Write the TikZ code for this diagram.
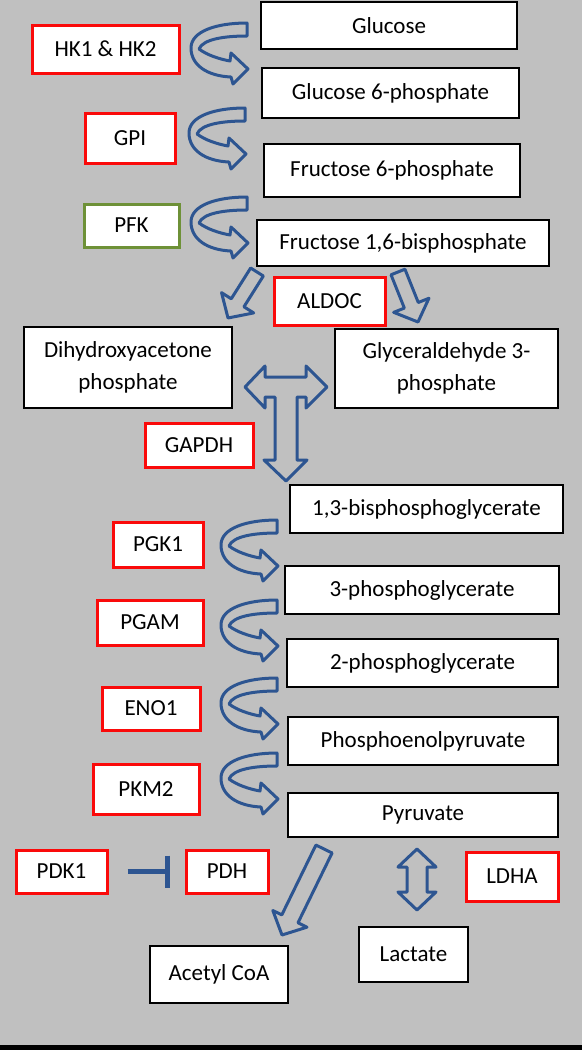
\documentclass[tikz,border=0pt]{standalone}
\usepackage{fontspec}
\setmainfont{Carlito}
\usetikzlibrary{calc,arrows.meta}

\definecolor{panel}{RGB}{192,192,192}
\definecolor{flow}{RGB}{45,85,145}
\definecolor{enzred}{RGB}{250,10,10}
\definecolor{enzgreen}{RGB}{110,145,55}

% curved step arrow, #1 = top of its tail
\newcommand{\turnarrow}[1]{%
  \begin{scope}[shift={(#1)}]
    \draw[flowline] (0,0) -- (0,13) .. controls (-22,13) and (-44,16) .. (-48,26)
      .. controls (-40,32) and (-28,36) .. (-17,38) -- (-16,30) -- (1,46) -- (-14,61) -- (-16,54)
      .. controls (-40,53) and (-56,42) .. (-56,25) .. controls (-56,8) and (-30,0) .. (0,0) -- cycle;
  \end{scope}}

% straight block arrow from #1 to #2, half shaft #3
\newcommand{\fatarrow}[3]{%
  \coordinate (hb) at ($(#2)!18pt!(#1)$);
  \draw[flowline] ($(#1)!#3!90:(#2)$) -- ($(hb)!#3!-90:(#1)$) -- ($(hb)!19pt!-90:(#1)$) -- (#2)
    -- ($(hb)!19pt!90:(#1)$) -- ($(hb)!#3!90:(#1)$) -- ($(#1)!#3!-90:(#2)$) -- cycle;}

% block arrow with two heads
\newcommand{\twinarrow}[3]{%
  \coordinate (ha) at ($(#1)!18pt!(#2)$);
  \coordinate (hb) at ($(#2)!18pt!(#1)$);
  \draw[flowline] (#1) -- ($(ha)!19pt!90:(#2)$) -- ($(ha)!#3!90:(#2)$) -- ($(hb)!#3!-90:(#1)$)
    -- ($(hb)!19pt!-90:(#1)$) -- (#2) -- ($(hb)!19pt!90:(#1)$) -- ($(hb)!#3!90:(#1)$)
    -- ($(ha)!#3!-90:(#2)$) -- ($(ha)!19pt!-90:(#2)$) -- cycle;}

\begin{document}
\begin{tikzpicture}[x=1pt,y=-1pt,
   met/.style={draw=black,line width=1.5pt,fill=white,inner sep=0pt,align=center,
     font=\fontsize{23}{32}\selectfont},
   enz/.style={met,draw=enzred,line width=3pt},
   flowline/.style={draw=flow,line width=3pt,line join=round},
   inhibit/.style={draw=flow,line width=5pt,-{Bar[width=32pt]},shorten <=19pt,shorten >=15pt}]

   \useasboundingbox (0,0) rectangle (582,1050);
   \fill[panel] (0,0) rectangle (582,1050);
   \fill[black] (0,1045) rectangle (582,1050);

   % metabolites
     \path (389,25.5) node[met,minimum width=256,minimum height=47] (glc) {Glucose};
     \path (390.5,93) node[met,minimum width=257,minimum height=50] (g6p) {Glucose 6-phosphate};
     \path (392,170.5) node[met,minimum width=256,minimum height=53] (f6p) {Fructose 6-phosphate};
     \path (403,243) node[met,minimum width=292,minimum height=46] (f16bp) {Fructose 1,6-bisphosphate};
     \path (128,367.5) node[met,minimum width=208,minimum height=81] (dhap) {Dihydroxyacetone\\phosphate};
     \path (446.5,368.5) node[met,minimum width=223,minimum height=79] (ga3p) {Glyceraldehyde 3-\\phosphate};
     \path (426.5,509) node[met,minimum width=273,minimum height=48] (bpg) {1,3-bisphosphoglycerate};
     \path (422,590) node[met,minimum width=274,minimum height=48] (pg3) {3-phosphoglycerate};
     \path (422.5,663) node[met,minimum width=271,minimum height=48] (pg2) {2-phosphoglycerate};
     \path (423,741) node[met,minimum width=270,minimum height=48] (pep) {Phosphoenolpyruvate};
     \path (423,815) node[met,minimum width=270,minimum height=44] (pyr) {Pyruvate};
     \path (219,974.5) node[met,minimum width=138,minimum height=57] (acoa) {Acetyl CoA};
     \path (413.5,954.5) node[met,minimum width=109,minimum height=55] (lac) {Lactate};

   % enzymes
     \path (105.5,49) node[enz,minimum width=147,minimum height=48] (hk) {HK1 \& HK2};
     \path (130,138) node[enz,minimum width=90,minimum height=50] (gpi) {GPI};
     \path (131.5,225.5) node[enz,draw=enzgreen,minimum width=95,minimum height=43] (pfk) {PFK};
     \path (329.5,301) node[enz,minimum width=111,minimum height=48] (aldoc) {ALDOC};
     \path (199,445) node[enz,minimum width=108,minimum height=44] (gapdh) {GAPDH};
     \path (158,544.5) node[enz,minimum width=90,minimum height=45] (pgk) {PGK1};
     \path (150,622.5) node[enz,minimum width=106,minimum height=45] (pgam) {PGAM};
     \path (151,708.5) node[enz,minimum width=98,minimum height=43] (eno) {ENO1};
     \path (146,789) node[enz,minimum width=106,minimum height=50] (pkm) {PKM2};
     \path (61.5,871.5) node[enz,minimum width=91,minimum height=43] (pdk) {PDK1};
     \path (227,871.5) node[enz,minimum width=82,minimum height=43] (pdh) {PDH};
     \path (512,876.5) node[enz,minimum width=92,minimum height=49] (ldha) {LDHA};

   % curved steps
     \turnarrow{247,23}
     \turnarrow{245,108}
     \turnarrow{247,197}
     \turnarrow{277,520}
     \turnarrow{277,600}
     \turnarrow{277,678}
     \turnarrow{277,753}

   % split and junction arrows
     \coordinate (splitl) at (257,272);
     \coordinate (splitr) at (398,272);
     \coordinate (dhapin) at (228,318);
     \coordinate (ga3pin) at (418,322);
     \fatarrow{splitl}{dhapin}{7.5pt}
     \fatarrow{splitr}{ga3pin}{7.5pt}

     \coordinate (tl) at (245,387);
     \coordinate (tr) at (327,387);
     \coordinate (td) at (286,481);
     \draw[flowline] (tl) -- ++(20,-21) -- ++(0,11) -- ++(41,0) -- ++(0,-11) -- (tr)
        -- ++(-21,21) -- ++(0,-11) -- ++(-9,0) -- ++(0,63) -- ++(10,0) -- (td)
        -- ++(-22,-21) -- ++(11,0) -- ++(0,-63) -- ++(-10,0) -- ++(0,11) -- cycle;

     \coordinate (pyrout) at (324,849);
     \coordinate (acoain) at (282,935);
     \fatarrow{pyrout}{acoain}{9pt}

     \coordinate (pyrlac) at (417,849);
     \coordinate (lacpyr) at (417,910);
     \twinarrow{pyrlac}{lacpyr}{10pt}

     \draw[inhibit] (pdk) -- (pdh);

\end{tikzpicture}
\end{document}
